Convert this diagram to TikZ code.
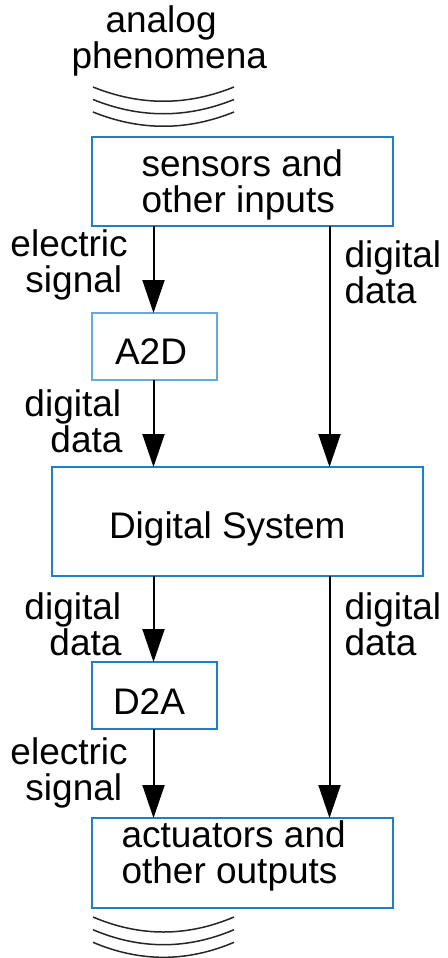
\documentclass[tikz,border=0pt]{standalone}
\usepackage{fontspec}
\setmainfont{Liberation Sans}
\usetikzlibrary{arrows.meta}
\definecolor{boxblue}{RGB}{30,128,196}
\definecolor{lightblue}{RGB}{100,170,222}
\begin{document}
\begin{tikzpicture}[x=0.5pt,y=-0.5pt,
  font=\fontsize{18.5pt}{17.75pt}\selectfont,
  box/.style={draw=boxblue, line width=1pt, rectangle, inner sep=0pt, outer sep=0pt},
  txt/.style={anchor=base west, inner sep=0pt, outer sep=0pt, align=left},
  flow/.style={line width=1pt, -{Triangle[length=16.5pt,width=11pt]}},
  wave/.style={line width=0.75pt, draw=black!85}]
\useasboundingbox (0,0) rectangle (447,958);

% incoming analog phenomena (multi-line texts are placed by their last baseline)
\node[txt] (analog) at (71.5,68) {\hspace*{17pt}analog\\phenomena};
\foreach \y in {87,99.5,112}
  \draw[wave] (93,\y) .. controls (140,\y+19) and (187,\y+19) .. (234,\y);

% blocks
\node[box, minimum width=150.5pt, minimum height=44.5pt] (sens) at (242.5,181.5) {};
\node[box, draw=lightblue, line width=0.6pt, minimum width=62.5pt, minimum height=33.5pt] (a2d) at (154.5,346.5) {};
\node[box, minimum width=185.5pt, minimum height=54.5pt] (ds) at (237.5,521.5) {};
\node[box, line width=0.8pt, minimum width=62.5pt, minimum height=33.5pt] (d2a) at (154.5,695.5) {};
\node[box, minimum width=150.5pt, minimum height=45pt] (act) at (242.5,863) {};

% block texts
\node[txt] (senst) at (141.5,212) {sensors and\\other inputs};
\node[txt] (a2dt) at (115,364) {A2D};
\node[txt] (dst) at (109,538) {Digital System};
\node[txt] (d2at) at (113,714) {D2A};
\node[txt] (actt) at (121.5,883) {actuators and\\other outputs};

% signal columns
\coordinate (lx) at (153.5,0);
\coordinate (rx) at (329.5,0);

\draw[flow] (sens.south -| lx) -- (a2d.north -| lx);
\draw[flow] (a2d.south -| lx) -- (ds.north -| lx);
\draw[flow] (sens.south -| rx) -- (ds.north -| rx);
\draw[flow] (ds.south -| lx) -- (d2a.north -| lx);
\draw[flow] (d2a.south -| lx) -- (act.north -| lx);
\draw[flow] (ds.south -| rx) -- (act.north -| rx);

% connector labels
\node[txt] (l1) at (10.5,292) {electric\\\hspace*{7.5pt}signal};
\node[txt] (l2) at (344.5,303) {digital\\data};
\node[txt] (l3) at (24.5,452) {digital\\\hspace*{13pt}data};
\node[txt] (l4) at (24.5,655) {digital\\\hspace*{12.5pt}data};
\node[txt] (l5) at (344.5,655) {digital\\data};
\node[txt] (l6) at (10.5,800) {electric\\\hspace*{7.5pt}signal};

% outgoing analog phenomena
\foreach \y in {917,929.7,942.3}
  \draw[wave] (93,\y) .. controls (140,\y+20) and (187,\y+20) .. (234,\y);
\end{tikzpicture}
\end{document}
